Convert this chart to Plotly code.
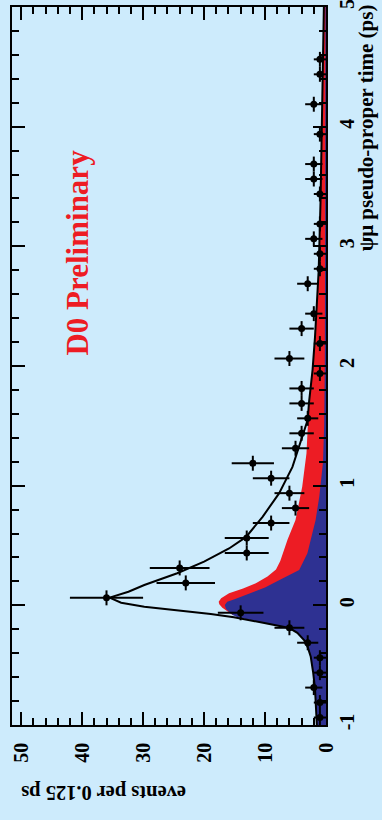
import numpy as np
import plotly.graph_objects as go

# Binned J/psi-mu pseudo-proper time distribution (0.125 ps bins)
bin_centers = [-0.9375, -0.8125, -0.6875, -0.5625, -0.4375, -0.3125, -0.1875, -0.0625,
               0.0625, 0.1875, 0.3125, 0.4375, 0.5625, 0.6875, 0.8125, 0.9375,
               1.0625, 1.1875, 1.3125, 1.4375, 1.5625, 1.6875, 1.8125, 1.9375,
               2.0625, 2.1875, 2.3125, 2.4375, 2.5625, 2.6875, 2.8125, 2.9375,
               3.0625, 3.1875, 3.3125, 3.4375, 3.5625, 3.6875, 3.8125, 3.9375,
               4.0625, 4.1875, 4.3125, 4.4375, 4.5625, 4.6875, 4.8125, 4.9375]
counts = [1, 1, 2, 1, 1, 3, 6, 14,
          36, 23, 24, 13, 13, 9, 5, 6,
          9, 12, 5, 4, 3, 4, 4, 1,
          6, 1, 4, 2, 0, 3, 1, 1,
          2, 1, 0, 1, 2, 2, 0, 1,
          0, 2, 0, 1, 1, 0, 0, 0]
bin_half_width = 0.0625

# Total fit curve
fit_t = [-1.0, -0.85, -0.7, -0.565, -0.43, -0.35, -0.29, -0.23, -0.19, -0.15, -0.13,
         -0.10, -0.072, -0.039, -0.011, 0.022, 0.045, 0.064, 0.114, 0.17, 0.268, 0.365,
         0.475, 0.572, 0.74, 0.935, 1.157, 1.38, 1.55, 1.69, 1.97, 2.245, 2.52,
         2.8, 3.37, 3.94, 4.5, 5.0]
fit_n = [1.5, 1.6, 1.8, 2.1, 2.5, 3.0, 3.6, 4.7, 6.0, 9.9, 11.8,
         15.1, 18.9, 24.4, 29.8, 33.6, 34.7, 35.5, 32.4, 29.8, 24.4, 20.0,
         15.9, 13.1, 10.4, 7.7, 5.5, 4.1, 3.0, 2.8, 2.2, 1.8, 1.5,
         1.2, 0.9, 0.7, 0.5, 0.35]

# Prompt component (blue)
prompt_t = [-1.0, -0.85, -0.7, -0.565, -0.43, -0.35, -0.29, -0.23, -0.19, -0.15, -0.13,
            -0.10, -0.08, -0.06, -0.03, 0.003, 0.03, 0.05, 0.086, 0.15, 0.21, 0.295,
            0.435, 0.546, 0.713, 0.91, 1.19, 1.5, 2.0, 3.0, 4.0, 5.0]
prompt_n = [1.5, 1.6, 1.8, 2.1, 2.5, 3.0, 3.6, 4.7, 6.0, 9.9, 11.8,
            14.5, 15.3, 15.8, 16.4, 16.6, 16.2, 15.0, 13.1, 10.0, 7.7, 4.4,
            3.05, 2.5, 1.7, 1.1, 0.5, 0.3, 0.2, 0.15, 0.12, 0.1]

# Prompt + B-decay component (red, stacked outline)
stack_t = [-0.08, -0.053, -0.02, 0.01, 0.03, 0.06, 0.10, 0.14, 0.184, 0.24, 0.30,
           0.37, 0.44, 0.55, 0.713, 0.99, 1.27, 1.55, 1.69, 1.97, 2.245, 2.52,
           2.8, 3.37, 3.94, 4.5, 5.0]
stack_n = [15.3, 16.1, 17.0, 17.5, 17.6, 17.2, 15.9, 13.6, 11.5, 9.6, 8.2,
           7.5, 7.0, 6.3, 5.0, 3.9, 3.2, 2.9, 2.8, 2.2, 1.8, 1.5,
           1.2, 0.9, 0.7, 0.5, 0.35]

time_ticks = [-1, 0, 1, 2, 3, 4, 5]
time_labels = ["-1", "0", "1", "2", "3", "4", "5"]
event_ticks = [0, 10, 20, 30, 40, 50]
event_labels = ["0", "10", "20", "30", "40", "50"]

BG = "#cdebfc"
RED = "#ed1c24"
BLUE = "#2e3192"
SERIF = "Liberation Serif"

fig = go.Figure()

fig.add_trace(go.Scatter(x=stack_n, y=stack_t, mode="lines", fill="tozerox",
                         fillcolor=RED, line=dict(width=0, color=RED),
                         hoverinfo="skip", showlegend=False))
fig.add_trace(go.Scatter(x=prompt_n, y=prompt_t, mode="lines", fill="tozerox",
                         fillcolor=BLUE, line=dict(width=0, color=BLUE),
                         hoverinfo="skip", showlegend=False))
fig.add_trace(go.Scatter(x=fit_n, y=fit_t, mode="lines",
                         line=dict(width=2, color="black"),
                         hoverinfo="skip", showlegend=False))

# Empty bins are not drawn
nz = [i for i, c in enumerate(counts) if c > 0]
pts_t = [bin_centers[i] for i in nz]
pts_n = [counts[i] for i in nz]
fig.add_trace(go.Scatter(
    x=pts_n, y=pts_t, mode="markers",
    marker=dict(size=7, color="black"),
    error_x=dict(type="data", array=list(np.sqrt(pts_n)), thickness=2, width=0, color="black"),
    error_y=dict(type="constant", value=bin_half_width, thickness=2, width=0, color="black"),
    showlegend=False))

tick_font = dict(family=SERIF, size=20, color="black", weight="bold")

fig.update_xaxes(
    range=[51.5, 0], showgrid=False, zeroline=False, automargin=False,
    showline=True, linecolor="black", linewidth=1.5, mirror="ticks",
    ticks="inside", ticklen=13, tickwidth=1.5, tickcolor="black",
    tickmode="array", tickvals=event_ticks, ticktext=event_labels,
    tickangle=-90, tickfont=tick_font, ticklabelstandoff=8,
    ticklabeloverflow="allow",
    minor=dict(ticks="inside", ticklen=7, tickwidth=1.5, tickcolor="black",
               tickmode="linear", tick0=0, dtick=2, showgrid=False),
)
fig.update_yaxes(
    range=[-1, 5], side="right", showgrid=False, zeroline=False, automargin=False,
    showline=True, linecolor="black", linewidth=1.5, mirror="ticks",
    ticks="inside", ticklen=13, tickwidth=1.5, tickcolor="black",
    tickmode="array", tickvals=time_ticks, ticktext=time_labels,
    tickangle=-90, tickfont=tick_font, ticklabelstandoff=2,
    ticklabeloverflow="allow",
    minor=dict(ticks="inside", ticklen=7, tickwidth=1.5, tickcolor="black",
               tickmode="linear", tick0=0, dtick=0.2, showgrid=False),
)

fig.add_annotation(x=40.8, y=2.95, xref="x", yref="y", text="D0 Preliminary",
                   textangle=-90, showarrow=False,
                   font=dict(family=SERIF, size=31, color=RED, weight="bold"))
fig.add_annotation(x=1.13, y=1.007, xref="paper", yref="paper",
                   text="\u03c8\u03bc pseudo-proper time (ps)", textangle=-90,
                   showarrow=False, xanchor="center", yanchor="top",
                   font=dict(family=SERIF, size=21, color="black", weight="bold"))
fig.add_annotation(x=0.293, y=-0.095, xref="paper", yref="paper",
                   text="events per 0.125 ps", textangle=180,
                   showarrow=False, xanchor="center", yanchor="middle",
                   font=dict(family=SERIF, size=20.5, color="black", weight="bold"))

fig.update_layout(
    width=382, height=820,
    margin=dict(l=12, r=56, t=7, b=95),
    paper_bgcolor=BG, plot_bgcolor=BG,
    showlegend=False,
)

fig.write_html("out.html")
